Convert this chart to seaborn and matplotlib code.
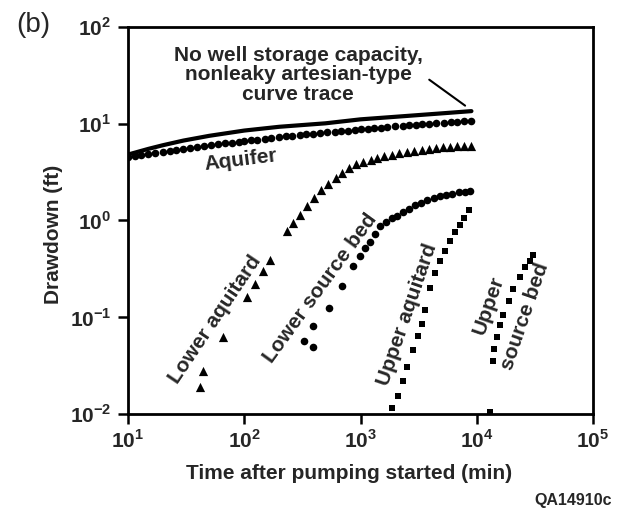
import matplotlib
matplotlib.use("Agg")
import matplotlib.pyplot as plt
import seaborn as sns

# values (time in min, drawdown in ft)
theis_t = [10, 15, 20, 30, 50, 100, 200, 500, 1000, 2000, 5000, 9000]
theis_s = [4.8, 5.5, 6.0, 6.7, 7.5, 8.5, 9.3, 10.1, 11.1, 11.8, 12.8, 13.5]

aquifer_t = [10, 11.5, 13, 15, 17, 20, 23, 26, 30, 34, 39, 45, 52, 60, 68, 78, 90,
             100, 115, 130, 150, 170, 200, 230, 260, 300, 340, 390, 450, 520, 600,
             680, 780, 900, 1000, 1150, 1300, 1500, 1700, 2000, 2300, 2600, 3000,
             3400, 3900, 4500, 5200, 6000, 6800, 7800, 9000]
aquifer_s = [4.50, 4.63, 4.74, 4.87, 4.99, 5.14, 5.27, 5.38, 5.51, 5.63, 5.75, 5.88,
             6.02, 6.15, 6.26, 6.39, 6.52, 6.62, 6.75, 6.86, 6.99, 7.11, 7.26, 7.38,
             7.50, 7.63, 7.74, 7.87, 8.00, 8.13, 8.27, 8.38, 8.51, 8.64, 8.74, 8.87,
             8.98, 9.11, 9.23, 9.37, 9.50, 9.62, 9.75, 9.86, 9.99, 10.12, 10.25,
             10.39, 10.50, 10.63, 10.76]

lower_aquitard_t = [41.6, 44, 66, 106, 124, 145, 167,
                    233, 265, 300, 345, 400, 460, 530, 610, 700, 800, 920, 1060,
                    1220, 1400, 1600, 1850, 2150, 2500, 2900, 3350, 3850, 4450,
                    5100, 5900, 6800, 7800, 9000]
lower_aquitard_s = [0.019, 0.028, 0.062, 0.16, 0.22, 0.30, 0.39,
                    0.77, 0.95, 1.15, 1.40, 1.70, 2.05, 2.40, 2.75, 3.10, 3.50,
                    3.85, 4.05, 4.25, 4.45, 4.62, 4.80, 4.95, 5.10, 5.25, 5.40,
                    5.50, 5.60, 5.70, 5.80, 5.87, 5.93, 5.95]

lower_source_t = [327, 390, 390, 536, 693, 862,
                  991, 1100, 1208, 1330, 1472, 1650, 1850, 2062, 2300, 2600, 2950,
                  3300, 3750, 4250, 4800, 5450, 6150, 7000, 7900, 8750]
lower_source_s = [0.057, 0.049, 0.081, 0.124, 0.209, 0.336,
                  0.43, 0.52, 0.60, 0.72, 0.87, 0.97, 1.05, 1.12, 1.22, 1.32, 1.44,
                  1.53, 1.62, 1.70, 1.78, 1.85, 1.90, 1.95, 1.98, 2.00]

upper_aquitard_t = [1866, 2102, 2323, 2513, 2831, 3126, 3384, 3590, 3963, 4375,
                    4830, 5333, 5888, 6500, 7177, 7768, 8577]
upper_aquitard_s = [0.0115, 0.0153, 0.0219, 0.0305, 0.0457, 0.0637, 0.0847, 0.118,
                    0.199, 0.284, 0.378, 0.479, 0.608, 0.752, 0.888, 1.07, 1.27]

upper_source_t = [13000, 13800, 14070, 14930, 15840, 16820, 18930, 20500, 23570,
                  26010, 28710, 30490]
upper_source_s = [0.0105, 0.0351, 0.0468, 0.0622, 0.0828, 0.105, 0.146, 0.195,
                  0.258, 0.328, 0.377, 0.435]

x_ticks = [1e1, 1e2, 1e3, 1e4, 1e5]
x_labels = ["1", "2", "3", "4", "5"]
y_ticks = [1e-2, 1e-1, 1e0, 1e1, 1e2]
y_labels = ["-2", "-1", "0", "1", "2"]

sns.set_theme(style="ticks")
plt.rcParams["font.family"] = ["Liberation Sans", "DejaVu Sans"]
plt.rcParams["font.weight"] = "bold"
plt.rcParams["mathtext.fontset"] = "custom"
plt.rcParams["mathtext.rm"] = "Liberation Sans:bold"
plt.rcParams["mathtext.bf"] = "Liberation Sans:bold"

fig = plt.figure(figsize=(6.25, 5.14), dpi=100)
ax = fig.add_axes([0.2048, 0.1946, 0.744, 0.7529])
ax.set_xscale("log")
ax.set_yscale("log")

sns.lineplot(x=theis_t, y=theis_s, color="black", lw=3, ax=ax)
sns.scatterplot(x=aquifer_t, y=aquifer_s, marker="o", s=30, color="black",
                linewidth=0, ax=ax)
sns.scatterplot(x=lower_aquitard_t, y=lower_aquitard_s, marker="^", s=44,
                color="black", linewidth=0, ax=ax)
sns.scatterplot(x=lower_source_t, y=lower_source_s, marker="o", s=30,
                color="black", linewidth=0, ax=ax)
sns.scatterplot(x=upper_aquitard_t, y=upper_aquitard_s, marker="s", s=22,
                color="black", linewidth=0, ax=ax)
sns.scatterplot(x=upper_source_t, y=upper_source_s, marker="s", s=22,
                color="black", linewidth=0, ax=ax, clip_on=False)

ax.set_xlim(1e1, 1e5)
ax.set_ylim(1e-2, 1e2)
ax.set_xticks(x_ticks)
ax.set_xticklabels([rf"$10^{{{e}}}$" for e in x_labels])
ax.set_yticks(y_ticks)
ax.set_yticklabels([rf"$10^{{{e}}}$" for e in y_labels])
ax.minorticks_off()
ax.tick_params(axis="both", direction="out", length=7, width=1.8,
               labelsize=15, color="black")
ax.tick_params(axis="x", pad=4)
ax.tick_params(axis="y", pad=5)
for sp in ax.spines.values():
    sp.set_linewidth(2)
    sp.set_color("black")

ax.set_xlabel("Time after pumping started (min)", fontsize=15, fontweight="bold")
ax.set_ylabel("Drawdown (ft)", fontsize=15, fontweight="bold")
ax.xaxis.set_label_coords(0.475, -0.128)
ax.yaxis.set_label_coords(-0.140, 0.465)

ax.annotate("No well storage capacity,\nnonleaky artesian-type\ncurve trace",
            xy=(8300, 14.8), xycoords="data",
            xytext=(0.366, 0.876), textcoords="axes fraction",
            ha="center", va="center", fontsize=15, fontweight="bold",
            linespacing=1.05)
ax.annotate("", xy=(8300, 14.8), xycoords="data",
            xytext=(0.643, 0.868), textcoords="axes fraction",
            arrowprops=dict(arrowstyle="-", color="black", lw=1.5))

label_kw = dict(transform=ax.transAxes, ha="center", va="center", fontsize=15,
                fontweight="bold", rotation_mode="anchor")
ax.text(0.243, 0.656, "Aquifer", rotation=7, **label_kw)
ax.text(0.188, 0.243, "Lower aquitard", rotation=56, **label_kw)
ax.text(0.413, 0.326, "Lower source bed", rotation=54, **label_kw)
ax.text(0.601, 0.256, "Upper aquitard", rotation=71, **label_kw)
ax.text(0.776, 0.282, "Upper", rotation=71, **label_kw)
ax.text(0.854, 0.253, "source bed", rotation=71, **label_kw)

fig.text(0.053, 0.951, "(b)", fontsize=20, fontweight="normal",
         ha="center", va="center")
fig.text(0.979, 0.027, "QA14910c", fontsize=11.5, fontweight="bold",
         ha="right", va="center")

fig.savefig("out.png", dpi=100)
